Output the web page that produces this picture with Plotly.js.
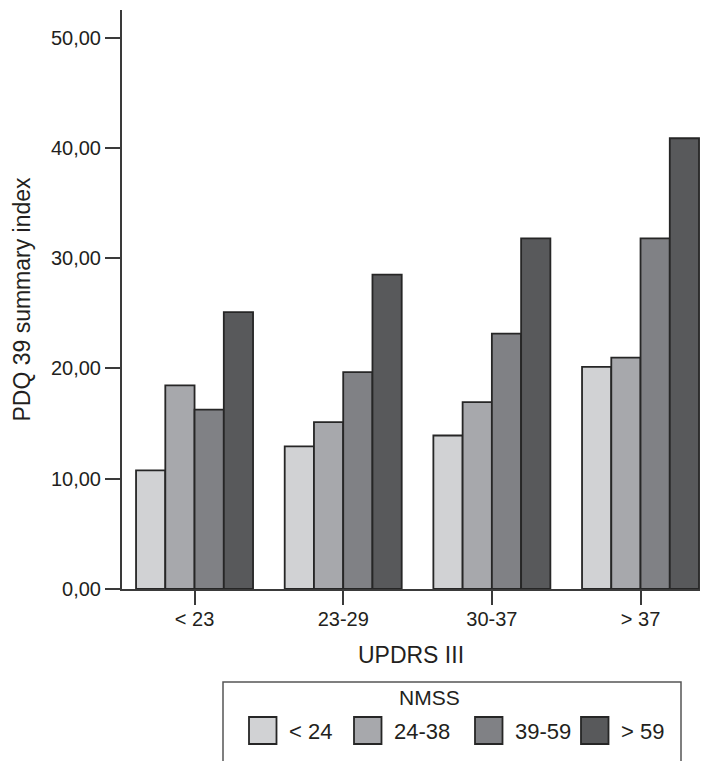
<!DOCTYPE html>
<html>
<head>
<meta charset="utf-8">
<script src="https://cdn.plot.ly/plotly-3.0.1.min.js"></script>
<style>
  html, body { margin: 0; padding: 0; background: #fff; }
  #chart { width: 704px; height: 761px; }
</style>
</head>
<body>
<div id="chart"></div>
<script>
// UPDRS III bands on the x axis
const categories = ['< 23', '23-29', '30-37', '> 37'];

// NMSS groups (one bar series each)
const nmssGroups = ['< 24', '24-38', '39-59', '> 59'];

// PDQ 39 summary index per UPDRS III band
const nmssLt24 = [10.75, 12.93, 13.92, 20.14];
const nmss24to38 = [18.46, 15.14, 16.94, 20.98];
const nmss39to59 = [16.26, 19.66, 23.15, 31.80];
const nmssGt59 = [25.11, 28.50, 31.80, 40.87];

const seriesValues = [nmssLt24, nmss24to38, nmss39to59, nmssGt59];
const fills = ['#d1d2d4', '#a7a8ac', '#808185', '#58595b'];

const W = 704, H = 761;
const M = { l: 122, r: 4, t: 10, b: 172 };
const plotW = W - M.l - M.r;
const plotH = H - M.t - M.b;
const ink = '#231f20';
const axisInk = '#3a3a3a';
const font = 'Liberation Sans, Arial, Helvetica, sans-serif';

// pixel -> paper helpers for the hand-built legend panel
const px = x => (x - M.l) / plotW;
const py = y => (H - M.b - y) / plotH;

const traces = nmssGroups.map((name, i) => ({
  type: 'bar',
  name: name,
  x: categories,
  y: seriesValues[i],
  marker: { color: fills[i], line: { color: '#262626', width: 1.8 } },
  hoverinfo: 'x+y+name'
}));

// Legend panel: frame, title, swatches and labels
const shapes = [
  { type: 'rect', xref: 'paper', yref: 'paper',
    x0: px(223), x1: px(681), y0: py(790), y1: py(682),
    line: { color: '#555', width: 1.5 }, fillcolor: 'rgba(0,0,0,0)' }
];
const annotations = [
  { xref: 'paper', yref: 'paper', x: px(429), y: py(697), xanchor: 'center', yanchor: 'middle',
    text: 'NMSS', showarrow: false, font: { family: font, size: 21, color: ink } }
];
const swatchX = [249, 354, 475, 581];
nmssGroups.forEach((name, i) => {
  shapes.push({ type: 'rect', xref: 'paper', yref: 'paper',
    x0: px(swatchX[i]), x1: px(swatchX[i] + 27.5), y0: py(744), y1: py(717),
    fillcolor: fills[i], line: { color: '#262626', width: 1.8 } });
  annotations.push({ xref: 'paper', yref: 'paper', x: px(swatchX[i] + 38), y: py(731),
    xanchor: 'left', yanchor: 'middle', text: name, showarrow: false,
    font: { family: font, size: 22, color: ink } });
});

const layout = {
  width: W, height: H,
  margin: M,
  paper_bgcolor: '#fff', plot_bgcolor: '#fff',
  separators: ',.',
  showlegend: false,
  barmode: 'group',
  bargap: 0.213,
  bargroupgap: 0,
  font: { family: font, color: ink },
  xaxis: {
    type: 'category',
    range: [-0.488, 3.4],
    showgrid: false, zeroline: false,
    showline: true, linecolor: axisInk, linewidth: 2,
    ticks: 'outside', ticklen: 14, tickwidth: 2, tickcolor: axisInk,
    ticklabelstandoff: -3,
    tickfont: { family: font, size: 20, color: ink },
    title: { text: 'UPDRS III', font: { family: font, size: 23, color: ink }, standoff: 18 }
  },
  yaxis: {
    range: [0, 52.5],
    dtick: 10, tick0: 0,
    tickformat: '.2f',
    showgrid: false, zeroline: false,
    showline: true, linecolor: axisInk, linewidth: 2,
    ticks: 'outside', ticklen: 15, tickwidth: 2, tickcolor: axisInk,
    tickfont: { family: font, size: 20, color: ink },
    title: { text: 'PDQ 39 summary index', font: { family: font, size: 23, color: ink }, standoff: 14 }
  },
  shapes: shapes,
  annotations: annotations
};

Plotly.newPlot('chart', traces, layout, { displayModeBar: false, staticPlot: true });
</script>
</body>
</html>
